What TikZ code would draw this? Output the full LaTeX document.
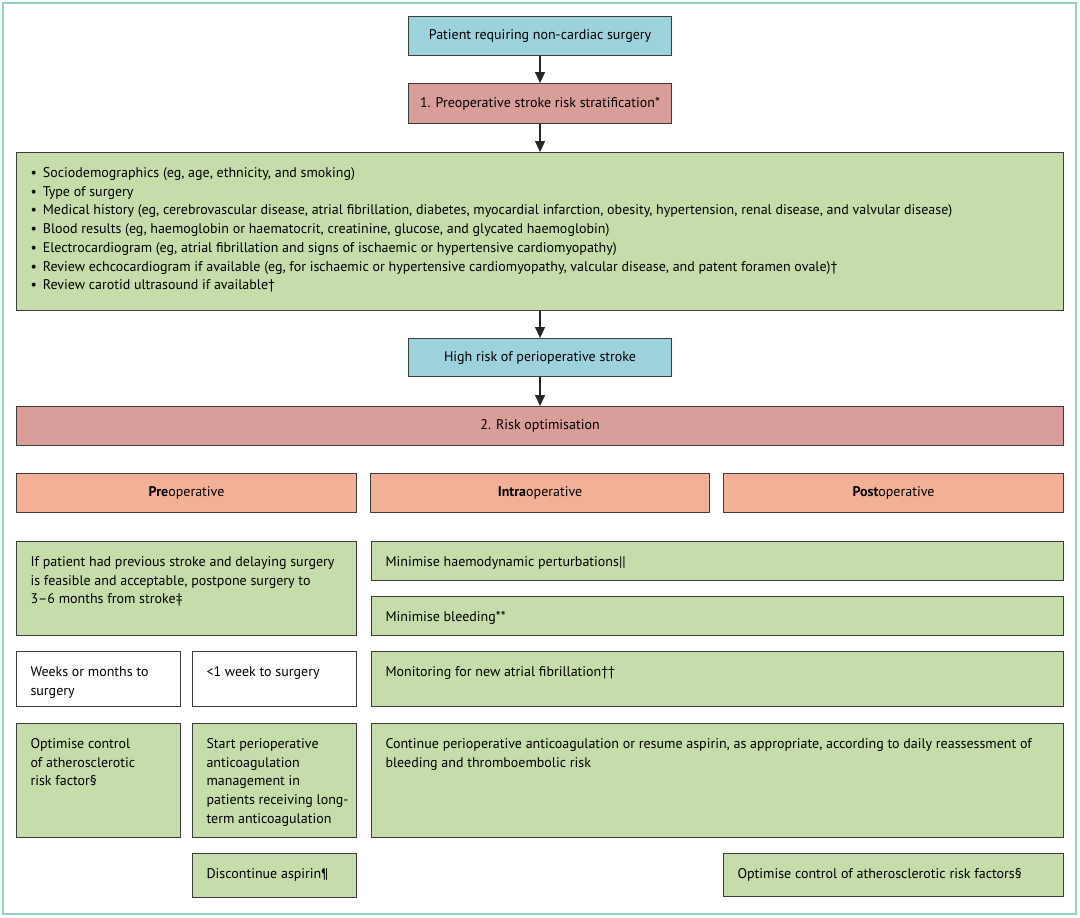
\documentclass[tikz,border=0pt]{standalone}
\usepackage{fontspec}
\setmainfont{PT Sans}
\usetikzlibrary{arrows.meta}
\definecolor{cblue}{HTML}{9DD1DC}
\definecolor{cpink}{HTML}{DA9E9A}
\definecolor{corange}{HTML}{F2B197}
\definecolor{cgreen}{HTML}{C6DCAB}
\definecolor{cframe}{HTML}{8FD3C5}
\definecolor{cline}{HTML}{3C3C3C}
\newcommand{\bt}[3]{\parbox[c][#2pt][t]{#1pt}{\raggedright\rule{0pt}{25pt}#3}}
\begin{document}
\begin{tikzpicture}[x=1pt,y=-1pt, font=\fontsize{14}{18.7}\selectfont,
 bx/.style={draw=cline, line width=1.1pt, anchor=north west, inner sep=0pt, align=center},
 tb/.style={draw=cline, line width=1.1pt, anchor=north west, inner xsep=14pt, inner ysep=0pt},
 arr/.style={draw=black!85, line width=1.2pt, -{Triangle[width=10pt,length=11pt]}}]
\useasboundingbox (0,0) rectangle (1080,918);
\draw[cframe, line width=2pt] (3,3) rectangle (1076,914);

\node[bx, fill=cblue, minimum width=263pt, minimum height=39pt] (start) at (408,16) {Patient requiring non-cardiac surgery};
\node[bx, fill=cpink, minimum width=263pt, minimum height=40pt] (strat) at (408,83) {1. Preoperative stroke risk stratification*};
\node[tb, fill=cgreen] (factors) at (16,152) {\bt{1019}{158}{%
\textbullet\hspace{6pt}Sociodemographics (eg, age, ethnicity, and smoking)\\
\textbullet\hspace{6pt}Type of surgery\\
\textbullet\hspace{6pt}Medical history (eg, cerebrovascular disease, atrial fibrillation, diabetes, myocardial infarction, obesity, hypertension, renal disease, and valvular disease)\\
\textbullet\hspace{6pt}Blood results (eg, haemoglobin or haematocrit, creatinine, glucose, and glycated haemoglobin)\\
\textbullet\hspace{6pt}Electrocardiogram (eg, atrial fibrillation and signs of ischaemic or hypertensive cardiomyopathy)\\
\textbullet\hspace{6pt}Review echcocardiogram if available (eg, for ischaemic or hypertensive cardiomyopathy, valcular disease, and patent foramen ovale)†\\
\textbullet\hspace{6pt}Review carotid ultrasound if available†}};
\node[bx, fill=cblue, minimum width=263pt, minimum height=38pt] (high) at (408,338) {High risk of perioperative stroke};
\node[bx, fill=cpink, minimum width=1047pt, minimum height=39pt] (risk) at (16,406) {2. Risk optimisation};

\node[bx, fill=corange, minimum width=340pt, minimum height=39pt] (pre) at (16,473) {\textbf{Pre}operative};
\node[bx, fill=corange, minimum width=339pt, minimum height=39pt] (intra) at (370,473) {\textbf{Intra}operative};
\node[bx, fill=corange, minimum width=340pt, minimum height=39pt] (post) at (723,473) {\textbf{Post}operative};

\node[tb, fill=cgreen] (postpone) at (16,541) {\bt{312}{94}{If patient had previous stroke and delaying surgery\\is feasible and acceptable, postpone surgery to\\3–6 months from stroke‡}};
\node[tb, fill=cgreen] (haemo) at (371,541) {\bt{664}{39}{Minimise haemodynamic perturbations||}};
\node[tb, fill=cgreen] (bleed) at (371,596) {\bt{664}{39}{Minimise bleeding**}};
\node[tb, fill=white] (weeks) at (16,651) {\bt{136}{55}{Weeks or months to\\surgery}};
\node[tb, fill=white] (week1) at (192,651) {\bt{136}{55}{<1 week to surgery}};
\node[tb, fill=cgreen] (monitor) at (371,651) {\bt{664}{55}{Monitoring for new atrial fibrillation††}};
\node[tb, fill=cgreen] (optim) at (16,723) {\bt{136}{114}{Optimise control\\of atherosclerotic\\risk factor§}};
\node[tb, fill=cgreen] (anticoag) at (192,723) {\bt{136}{114}{Start perioperative\\anticoagulation\\management in\\\makebox[136pt][l]{patients receiving long-}\\term anticoagulation}};
\node[tb, fill=cgreen] (cont) at (371,723) {\bt{664}{114}{Continue perioperative anticoagulation or resume aspirin, as appropriate, according to daily reassessment of\\bleeding and thromboembolic risk}};
\node[tb, fill=cgreen] (disc) at (192,853) {\bt{136}{44}{Discontinue aspirin¶}};
\node[tb, fill=cgreen] (optim2) at (723,853) {\bt{312}{43}{Optimise control of atherosclerotic risk factors§}};

\draw[arr] (start.south) -- (strat.north);
\draw[arr] (strat.south) -- (factors.north);
\draw[arr] (factors.south) -- (high.north);
\draw[arr] (high.south) -- (risk.north);
\end{tikzpicture}
\end{document}
